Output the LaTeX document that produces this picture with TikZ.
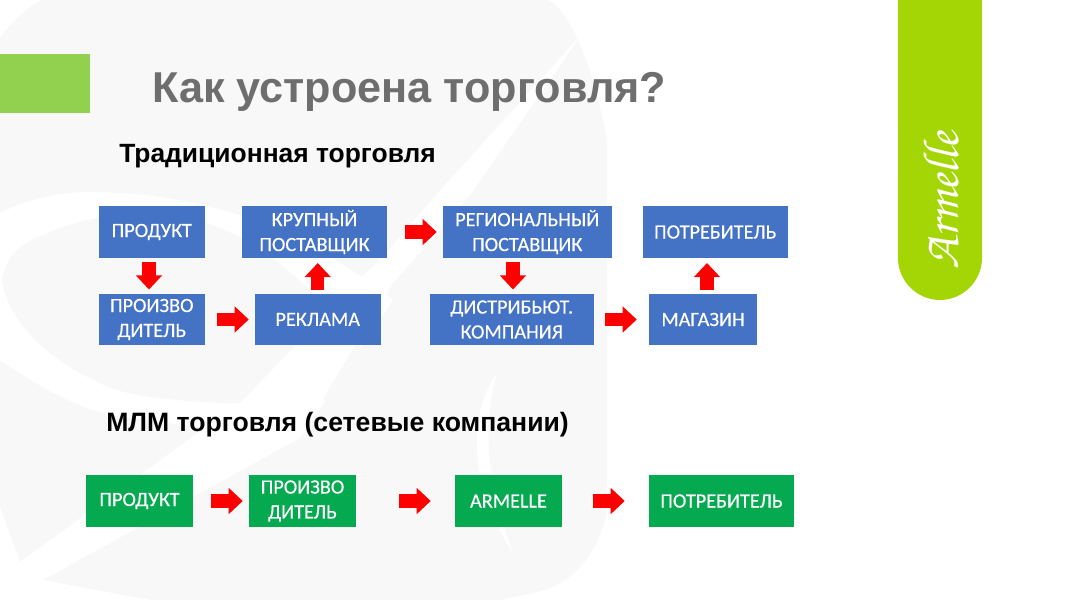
\documentclass[tikz,border=0pt]{standalone}
\usepackage[T1,TU]{fontenc}
\usepackage{fontspec}
\setmainfont{Liberation Sans}
\newfontfamily\boxfont[FakeBold=0.35]{Carlito}
\usetikzlibrary{arrows.meta}
\def\px{0.75pt}
\definecolor{wm}{HTML}{F8F8F9}
\definecolor{limetab}{HTML}{A4D606}
\definecolor{leftbar}{HTML}{92D050}
\definecolor{boxblue}{HTML}{4472C4}
\definecolor{boxgreen}{HTML}{05AA50}
\definecolor{titlegray}{HTML}{6E6E6E}
\tikzset{
 x=0.75pt,y=-0.75pt,
 flowbox/.style={fill=#1,text=white,inner sep=0pt,align=center,minimum height=51.5*\px,
   font=\boxfont\fontsize{15.2}{18.7}\selectfont},
 bw/.style={minimum width=#1*\px},
 blockarrow/.style={draw=red,line width=10pt,-{Triangle[length=10.5pt,width=19pt,fill=red]}},
 heading/.style={anchor=west,inner sep=0pt,font=\bfseries\fontsize{19.8}{22}\selectfont},
}
\begin{document}
\begin{tikzpicture}
\useasboundingbox (0,0) rectangle (1072,600);
\fill[white] (0,0) rectangle (1072,600);
% watermark
\fill[wm] (0,38) .. controls (12,22) and (26,8) .. (42,0) -- (548,0) .. controls (565,8) and (590,50) .. (607,140)
  -- (607,510) .. controls (600,550) and (575,585) .. (533,593) -- (500,600) -- (0,600) -- cycle;
\fill[white] (0,213) .. controls (30,198) and (60,192) .. (90,192) .. controls (150,192) and (200,203) .. (233,213)
  .. controls (290,232) and (350,265) .. (393,300) -- (300,438) -- (250,437) .. controls (200,425) and (130,420) .. (100,412)
  .. controls (60,400) and (30,380) .. (0,360) -- cycle;
\fill[wm] (2,280) .. controls (5,262) and (15,248) .. (30,241) .. controls (70,222) and (100,215) .. (133,215)
  .. controls (170,215) and (200,220) .. (217,227) .. controls (290,255) and (350,330) .. (395,395)
  -- (267,405) .. controls (200,402) and (130,400) .. (100,383) .. controls (60,365) and (10,330) .. (2,280) -- cycle;
\fill[white] (582,34) -- (470,195) -- (433,238) -- (393,283) -- (340,370) -- (300,438) -- (43,580) -- (20,562)
  -- (243,400) -- (330,310) -- (393,245) -- (445,185) -- cycle;
\fill[white] (0,507) -- (20,562) -- (43,580) -- (150,600) -- (0,600) -- cycle;
\fill[white] (497,373) .. controls (470,410) and (465,480) .. (513,553) .. controls (490,490) and (480,430) .. (497,373) -- cycle;
% bars
\fill[leftbar] (0,53.5) rectangle (90,112.5);
\fill[limetab] (898,0) -- (982,0) -- (982,258) .. controls (982,281) and (963,300) .. (940,300)
  .. controls (917,300) and (898,281) .. (898,258) -- cycle;
\node[rotate=90,text=white,inner sep=0pt,font=\fontencoding{T1}\fontfamily{pzc}\fontseries{m}\fontshape{it}\selectfont\fontsize{38}{38}\selectfont] (logo) at (941,201) {Armelle};
% headings
\node[heading,text=titlegray,font=\bfseries\fontsize{32.4}{36}\selectfont] (title) at (152,92) {Как устроена торговля?};
\node[heading] (h1) at (119,156) {Традиционная торговля};
\node[heading,font=\bfseries\fontsize{19.95}{22}\selectfont] (h2) at (106,425) {МЛМ торговля (сетевые компании)};
% blue boxes
\node[flowbox=boxblue,bw=106.5] (prod) at (151.75,232) {ПРОДУКТ};
\node[flowbox=boxblue,bw=145] (krup) at (314.5,232) {КРУПНЫЙ\\ПОСТАВЩИК};
\node[flowbox=boxblue,bw=169.5] (reg) at (527.25,232) {РЕГИОНАЛЬНЫЙ\\ПОСТАВЩИК};
\node[flowbox=boxblue,bw=144.5] (potr) at (715.25,232) {ПОТРЕБИТЕЛЬ};
\node[flowbox=boxblue,bw=106.5] (proiz) at (151.75,319.5) {ПРОИЗВО\\ДИТЕЛЬ};
\node[flowbox=boxblue,bw=126.5] (rek) at (317.75,319.5) {РЕКЛАМА};
\node[flowbox=boxblue,bw=163.5] (dist) at (511.75,319.5) {ДИСТРИБЬЮТ.\\КОМПАНИЯ};
\node[flowbox=boxblue,bw=108] (mag) at (703,319.5) {МАГАЗИН};
% green boxes
\node[flowbox=boxgreen,bw=107] (gprod) at (139.5,501) {ПРОДУКТ};
\node[flowbox=boxgreen,bw=107] (gproiz) at (302.5,501) {ПРОИЗВО\\ДИТЕЛЬ};
\node[flowbox=boxgreen,bw=107] (garm) at (508.5,501) {ARMELLE};
\node[flowbox=boxgreen,bw=145] (gpotr) at (721.5,501) {ПОТРЕБИТЕЛЬ};
% connectors
\draw[blockarrow,shorten <=4*\px,shorten >=4*\px] ([xshift=-2.75*\px]prod.south) -- ([xshift=-2.75*\px]proiz.north);
\draw[blockarrow,shorten <=12*\px,shorten >=5.5*\px] (proiz.east) -- (rek.west);
\draw[blockarrow,shorten <=3*\px,shorten >=5*\px] (rek.north) -- (rek.north |- krup.south);
\draw[blockarrow,shorten <=18*\px,shorten >=5.5*\px] (krup.east) -- (reg.west);
\draw[blockarrow,shorten <=4*\px,shorten >=4*\px] ([xshift=1.25*\px]dist.north |- reg.south) -- ([xshift=1.25*\px]dist.north);
\draw[blockarrow,shorten <=11.5*\px,shorten >=12*\px] (dist.east) -- (mag.west);
\draw[blockarrow,shorten <=3*\px,shorten >=5*\px] ([xshift=4*\px]mag.north) -- ([xshift=4*\px]mag.north |- potr.south);
\draw[blockarrow,shorten <=18*\px,shorten >=6*\px] (gprod.east) -- (gproiz.west);
\draw[blockarrow,shorten <=43*\px,shorten >=24*\px] (gproiz.east) -- (garm.west);
\draw[blockarrow,shorten <=31*\px,shorten >=24*\px] (garm.east) -- (gpotr.west);
\end{tikzpicture}
\end{document}
